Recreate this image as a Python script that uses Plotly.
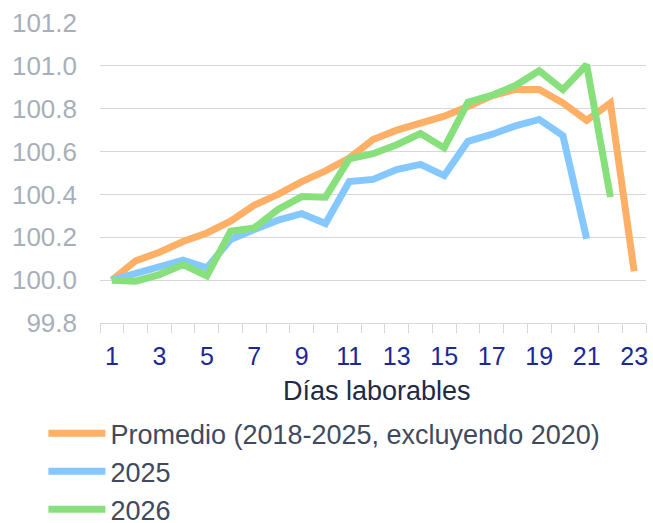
import plotly.graph_objects as go

dias = list(range(1, 24))
promedio = [100.0, 100.09, 100.13, 100.18, 100.22, 100.275, 100.35, 100.40, 100.46, 100.51,
            100.57, 100.656, 100.70, 100.733, 100.765, 100.81, 100.86, 100.89, 100.89, 100.827,
            100.746, 100.827, 100.042]
y2025 = [100.0, 100.03, 100.065, 100.093, 100.057, 100.19, 100.236, 100.28, 100.31, 100.264,
         100.46, 100.47, 100.516, 100.54, 100.488, 100.648, 100.68, 100.72, 100.75, 100.674,
         100.193]
y2026 = [100.0, 99.995, 100.026, 100.073, 100.02, 100.228, 100.244, 100.33, 100.39, 100.387,
         100.566, 100.59, 100.632, 100.684, 100.617, 100.83, 100.862, 100.908, 100.977, 100.889,
         101.005, 100.388]
series_names = ["Promedio (2018-2025, excluyendo 2020)", "2025", "2026"]
series_colors = ["#FFB066", "#85C8FF", "#88E07C"]
x_ticks = list(range(1, 24, 2))
y_ticks = [99.8, 100.0, 100.2, 100.4, 100.6, 100.8, 101.0, 101.2]

FONT = "Liberation Sans, Arial, sans-serif"

fig = go.Figure()
for i, (name, vals, col) in enumerate(zip(series_names, [promedio, y2025, y2026], series_colors)):
    fig.add_trace(go.Scatter(x=dias[:len(vals)], y=vals, mode="lines", name=name,
                             legendgroup=f"g{i}",
                             line=dict(color=col, width=7)))

fig.update_layout(
    width=653, height=523,
    margin=dict(l=100, r=7, t=23, b=200, autoexpand=False),
    paper_bgcolor="white", plot_bgcolor="white",
    font=dict(family=FONT),
    showlegend=True,
    legend=dict(x=-0.1037, xanchor="left", y=-0.287, yanchor="top",
                font=dict(size=27, color="#404A5E", family=FONT),
                itemwidth=57,
                bgcolor="rgba(0,0,0,0)", tracegroupgap=0),
    xaxis=dict(range=[0.5, 23.5], tickvals=x_ticks, ticktext=[str(v) for v in x_ticks],
               ticks="", showgrid=False, zeroline=False,
               showline=True, linecolor="#D3D8DF", linewidth=1.3,
               tickfont=dict(size=25, color="#1C2896", family=FONT),
               ticklabelstandoff=11, ticklabeloverflow="allow",
               minor=dict(ticks="outside", tick0=0.5, dtick=1, ticklen=9,
                          tickcolor="#D3D8DF", tickwidth=1.3, showgrid=False)),
    yaxis=dict(range=[99.8, 101.2], tickvals=y_ticks, tickformat=".1f",
               ticks="", showgrid=True, gridcolor="#D3D8DF", gridwidth=1.3,
               zeroline=False, showline=False,
               tickfont=dict(size=26, color="#A7AFBB", family=FONT),
               ticklabelstandoff=22),
    annotations=[dict(text="Días laborables", xref="paper", yref="paper",
                      x=0.507, y=-0.227, xanchor="center", yanchor="middle",
                      showarrow=False, font=dict(size=27, color="#1E2A45", family=FONT))],
)

fig.write_html("out.html", config={"displayModeBar": False},
               post_script="document.body.style.margin='0';")
